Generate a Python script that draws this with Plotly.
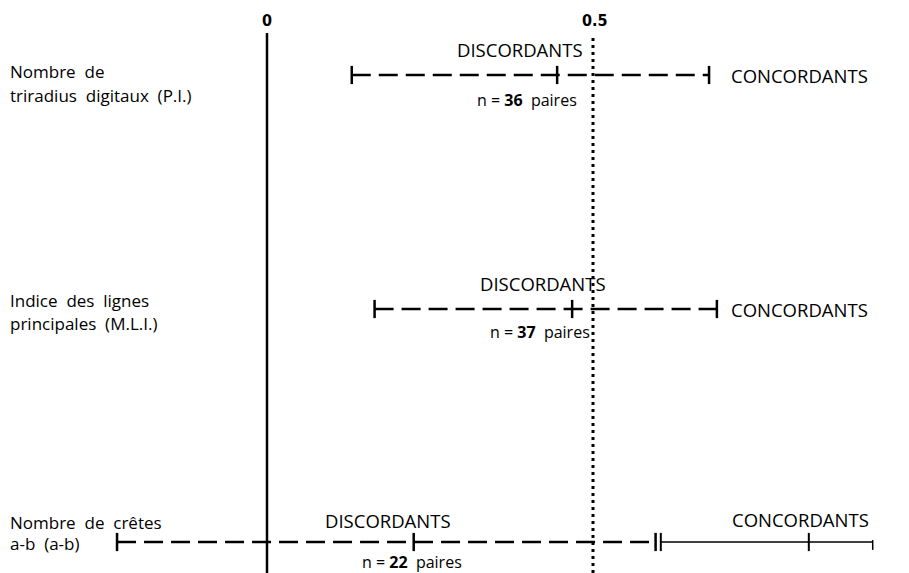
import plotly.graph_objects as go

# Intraclass correlation intervals for three dermatoglyphic traits
traits = ["Nombre de<br>triradius digitaux (P.I.)",
          "Indice des lignes<br>principales (M.L.I.)",
          "Nombre de crêtes<br>a-b (a-b)"]
pairs = [36, 37, 22]

# discordant-pair intervals: lower bound, estimate, upper bound
disc_low = [0.13, 0.165, -0.23]
disc_est = [0.445, 0.468, 0.225]
disc_high = [0.678, 0.69, 0.596]

# concordant-pair interval (only for the a-b ridge count)
conc_low = [0.604]
conc_est = [0.831]
conc_high = [0.929]

axis_ticks = [0, 0.5]
axis_tick_labels = ["0", "0.5"]

# vertical layout (screen units, top = 0)
ROW_Y = [75, 309, 542]
LABEL_Y = [[71, 95], [300, 323], [522, 543]]
TOP_ZERO, TOP_HALF, BOTTOM = 33, 38, 573

PX_PER_UNIT = 652.0
ZERO_PX = 267.0
W, H = 909, 573
x_range = [(0 - ZERO_PX) / PX_PER_UNIT, (W - ZERO_PX) / PX_PER_UNIT]

BODY = "'Open Sans', Lato, sans-serif"
NARROW = "'Liberation Sans Narrow', 'DejaVu Sans Condensed', sans-serif"

fig = go.Figure()

# zero line
fig.add_trace(go.Scatter(x=[axis_ticks[0]] * 2, y=[TOP_ZERO, BOTTOM], mode="lines",
                         line=dict(color="black", width=2.5), hoverinfo="skip"))
# 0.5 reference line (dotted)
fig.add_trace(go.Scatter(x=[axis_ticks[1]] * 2, y=[TOP_HALF, BOTTOM], mode="lines",
                         line=dict(color="black", width=3, dash="3px,4px"), hoverinfo="skip"))

for i in range(len(traits)):
    y = ROW_Y[i]
    fig.add_trace(go.Scatter(x=[disc_low[i], disc_high[i]], y=[y, y], mode="lines",
                             line=dict(color="black", width=2.5, dash="19px,8px"),
                             hoverinfo="skip"))
    fig.add_trace(go.Scatter(x=[disc_low[i], disc_est[i], disc_high[i]], y=[y] * 3,
                             mode="markers",
                             marker=dict(symbol="line-ns", size=13,
                                         line=dict(color="black", width=2.5)),
                             hoverinfo="skip"))

# concordant interval for the a-b ridge count (solid)
yc = ROW_Y[2]
fig.add_trace(go.Scatter(x=[conc_low[0], conc_high[0]], y=[yc, yc], mode="lines",
                         line=dict(color="black", width=1.6), hoverinfo="skip"))
fig.add_trace(go.Scatter(x=[conc_low[0], conc_est[0]], y=[yc, yc], mode="markers",
                         marker=dict(symbol="line-ns", size=13,
                                     line=dict(color="black", width=2)),
                         hoverinfo="skip"))
fig.add_trace(go.Scatter(x=[conc_high[0]], y=[yc + 3], mode="markers",
                         marker=dict(symbol="line-ns", size=7,
                                     line=dict(color="black", width=1.5)),
                         hoverinfo="skip"))

ann = []
# axis value labels
for v, t in zip(axis_ticks, axis_tick_labels):
    ann.append(dict(x=v + (0.003 if v else 0), y=20, text=f"<b>{t}</b>", showarrow=False,
                    font=dict(family=NARROW, size=16, color="black")))

# trait labels on the left (wide word spacing)
for i, t in enumerate(traits):
    lines = t.split("<br>")
    for ln, ly in zip(lines, LABEL_Y[i]):
        ann.append(dict(x=x_range[0], y=ly, text=ln.replace(" ", "&nbsp; "),
                        showarrow=False, xanchor="left", xshift=8,
                        font=dict(family=BODY, size=17, color="black")))

disc_label_x = [0.388, 0.423, 0.185]
n_label_x = [0.398, 0.419, 0.222]
n_label_y = [100, 332, 562]
for i in range(len(traits)):
    ann.append(dict(x=disc_label_x[i], y=ROW_Y[i] - (26 if i < 2 else 22),
                    text="DISCORDANTS", showarrow=False,
                    font=dict(family=BODY, size=18.5, color="black")))
    ann.append(dict(x=n_label_x[i], y=n_label_y[i],
                    text=f"n = <b>{pairs[i]}</b>&nbsp; paires", showarrow=False,
                    font=dict(family=BODY, size=16, color="black")))

# concordant labels
for i in range(2):
    ann.append(dict(x=0.709, y=ROW_Y[i], text="CONCORDANTS", showarrow=False,
                    xanchor="left", font=dict(family=BODY, size=18.5, color="black")))
ann.append(dict(x=0.818, y=ROW_Y[2] - 23, text="CONCORDANTS", showarrow=False,
                font=dict(family=BODY, size=18.5, color="black")))

fig.update_layout(
    width=W, height=H,
    margin=dict(l=0, r=0, t=0, b=0),
    paper_bgcolor="white", plot_bgcolor="white",
    showlegend=False,
    annotations=ann,
    xaxis=dict(range=x_range, visible=False, fixedrange=True),
    yaxis=dict(range=[H, 0], visible=False, fixedrange=True),
)

fig.write_html("out.html")
